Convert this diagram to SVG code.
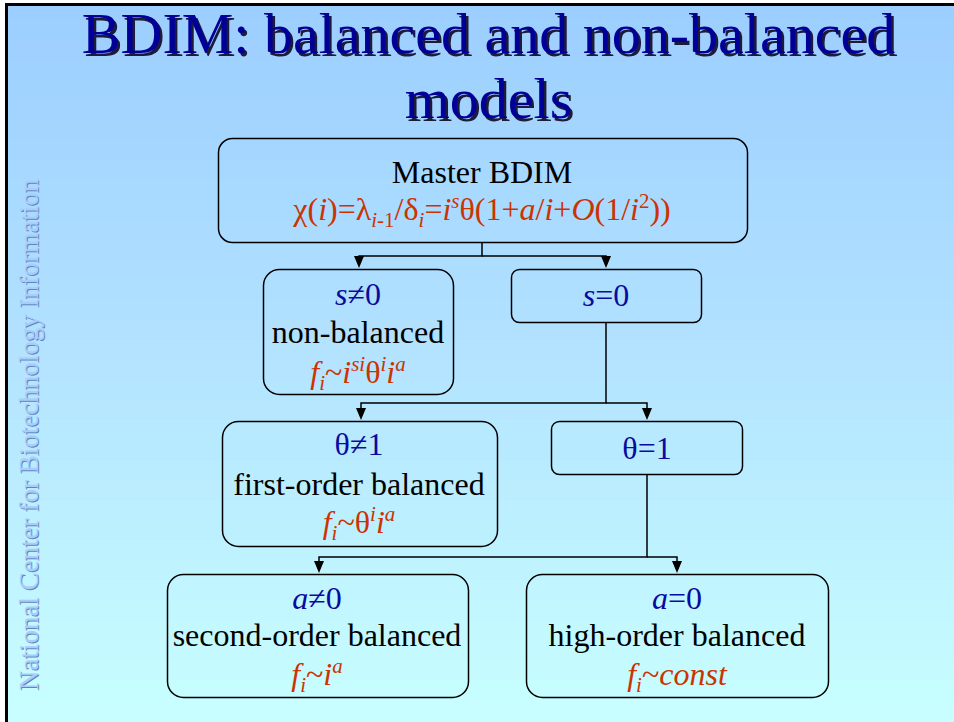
<svg xmlns="http://www.w3.org/2000/svg" width="954" height="722" viewBox="0 0 954 722">
  <!-- background: vertical blue-to-cyan wash built from thin bands -->
  <g id="background">
    <rect x="0" y="0" width="954" height="21" fill="#9cceff"/>
    <rect x="0" y="20" width="954" height="21" fill="#9dcfff"/>
    <rect x="0" y="40" width="954" height="21" fill="#9fd0ff"/>
    <rect x="0" y="60" width="954" height="21" fill="#a0d2ff"/>
    <rect x="0" y="80" width="954" height="21" fill="#a1d3ff"/>
    <rect x="0" y="100" width="954" height="21" fill="#a3d4ff"/>
    <rect x="0" y="120" width="954" height="21" fill="#a4d5ff"/>
    <rect x="0" y="140" width="954" height="21" fill="#a5d6ff"/>
    <rect x="0" y="160" width="954" height="21" fill="#a7d8ff"/>
    <rect x="0" y="180" width="954" height="21" fill="#a8d9ff"/>
    <rect x="0" y="200" width="954" height="21" fill="#a9daff"/>
    <rect x="0" y="220" width="954" height="21" fill="#abdbff"/>
    <rect x="0" y="240" width="954" height="21" fill="#acdcff"/>
    <rect x="0" y="260" width="954" height="21" fill="#addeff"/>
    <rect x="0" y="280" width="954" height="21" fill="#afdfff"/>
    <rect x="0" y="300" width="954" height="21" fill="#b0e0ff"/>
    <rect x="0" y="320" width="954" height="21" fill="#b1e1ff"/>
    <rect x="0" y="340" width="954" height="21" fill="#b3e3ff"/>
    <rect x="0" y="360" width="954" height="21" fill="#b4e4ff"/>
    <rect x="0" y="380" width="954" height="21" fill="#b5e6ff"/>
    <rect x="0" y="400" width="954" height="21" fill="#b6e7ff"/>
    <rect x="0" y="420" width="954" height="21" fill="#b7e9ff"/>
    <rect x="0" y="440" width="954" height="21" fill="#b8eaff"/>
    <rect x="0" y="460" width="954" height="21" fill="#baecff"/>
    <rect x="0" y="480" width="954" height="21" fill="#bbedff"/>
    <rect x="0" y="500" width="954" height="21" fill="#bcefff"/>
    <rect x="0" y="520" width="954" height="21" fill="#bdf0ff"/>
    <rect x="0" y="540" width="954" height="21" fill="#bef2ff"/>
    <rect x="0" y="560" width="954" height="21" fill="#bff4ff"/>
    <rect x="0" y="580" width="954" height="21" fill="#c1f5ff"/>
    <rect x="0" y="600" width="954" height="21" fill="#c2f7ff"/>
    <rect x="0" y="620" width="954" height="21" fill="#c3f8ff"/>
    <rect x="0" y="640" width="954" height="21" fill="#c4faff"/>
    <rect x="0" y="660" width="954" height="21" fill="#c5fbff"/>
    <rect x="0" y="680" width="954" height="21" fill="#c6fdff"/>
    <rect x="0" y="700" width="954" height="22" fill="#c8feff"/>
    <rect x="0" y="0" width="954" height="3" fill="#fff"/>
    <rect x="0" y="0" width="5" height="722" fill="#fff"/>
    <line x1="5" y1="4.5" x2="954" y2="4.5" stroke="#000" stroke-width="3"/>
    <line x1="6.5" y1="3" x2="6.5" y2="722" stroke="#000" stroke-width="3"/>
  </g>

  <!-- title, with a dark offset copy underneath as its shadow -->
  <g id="title" text-anchor="middle">
    <text x="491" y="55.5" font-family="Liberation Serif" font-size="58" fill="#1c1c3a">BDIM: balanced and non-balanced</text>
    <text x="491" y="120.5" font-family="Liberation Serif" font-size="58" fill="#1c1c3a">models</text>
    <text x="488.5" y="53" font-family="Liberation Serif" font-size="58" fill="#000099">BDIM: balanced and non-balanced</text>
    <text x="488.5" y="118" font-family="Liberation Serif" font-size="58" fill="#000099">models</text>
  </g>

  <!-- side caption, engraved look -->
  <g id="side-caption">
    <text transform="translate(39,691) rotate(-90)" font-family="Liberation Serif" font-size="27" fill="#5f84bd">National Center for Biotechnology Information</text>
    <text transform="translate(38,690) rotate(-90)" font-family="Liberation Serif" font-size="27" fill="#a9ccfa">National Center for Biotechnology Information</text>
  </g>

  <!-- connectors: elbow lines with solid arrowheads -->
  <g id="connectors">
    <g fill="none" stroke="#000" stroke-width="1.5">
      <path d="M482,242 V256 H359 V257"/>
      <path d="M482,256 H606 V257"/>
      <path d="M606,322 V403 H361 V409"/>
      <path d="M606,403 H647 V409"/>
      <path d="M647,474 V557 H319 V562"/>
      <path d="M647,557 H677 V562"/>
    </g>
    <g fill="#000">
      <polygon points="354,256 364,256 359,268"/>
      <polygon points="601,256 611,256 606,268"/>
      <polygon points="356,408 366,408 361,420"/>
      <polygon points="642,408 652,408 647,420"/>
      <polygon points="314,561 324,561 319,573"/>
      <polygon points="672,561 682,561 677,573"/>
    </g>
  </g>

  <g id="nodes" text-anchor="middle">
  <!-- Master BDIM -->
  <g id="master">
    <rect x="218.5" y="138.5" width="529" height="104" rx="14" fill="none" stroke="#000" stroke-width="1.5"/>
    <text x="482" y="183" font-family="Liberation Serif" font-size="32" fill="#000">Master BDIM</text>
    <text x="482" y="220" font-family="Liberation Serif" font-size="32" fill="#cc3300">&#967;(<tspan font-style="italic">i</tspan>)=&#955;<tspan font-size="21" font-style="italic" dy="7">i</tspan><tspan font-size="21">-1</tspan><tspan dy="-7">/&#948;</tspan><tspan font-size="21" font-style="italic" dy="7">i</tspan><tspan dy="-7">=</tspan><tspan font-style="italic">i</tspan><tspan font-size="21" font-style="italic" dy="-12">s</tspan><tspan dy="12">&#952;(1+</tspan><tspan font-style="italic">a</tspan>/<tspan font-style="italic">i</tspan>+<tspan font-style="italic">O</tspan>(1/<tspan font-style="italic">i</tspan><tspan font-size="21" dy="-12">2</tspan><tspan dy="12">))</tspan></text>
  </g>

  <!-- s not equal 0 -->
  <g id="non-balanced">
    <rect x="263.5" y="269.5" width="190" height="125" rx="16" fill="none" stroke="#000" stroke-width="1.5"/>
    <text x="358" y="305" font-family="Liberation Serif" font-size="32" fill="#0a0a9e"><tspan font-style="italic">s</tspan>&#8800;0</text>
    <text x="358" y="343" font-family="Liberation Serif" font-size="32" fill="#000">non-balanced</text>
    <text x="358" y="383" font-family="Liberation Serif" font-size="32" fill="#cc3300"><tspan font-style="italic">f</tspan><tspan font-size="21" font-style="italic" dy="7">i</tspan><tspan dy="-7">~</tspan><tspan font-style="italic">i</tspan><tspan font-size="21" font-style="italic" dy="-12">si</tspan><tspan dy="12">&#952;</tspan><tspan font-size="21" font-style="italic" dy="-12">i</tspan><tspan font-style="italic" dy="12">i</tspan><tspan font-size="21" font-style="italic" dy="-12">a</tspan></text>
  </g>

  <!-- s = 0 -->
  <g id="s-zero">
    <rect x="511.5" y="269.5" width="190" height="53" rx="8" fill="none" stroke="#000" stroke-width="1.5"/>
    <text x="606" y="306" font-family="Liberation Serif" font-size="32" fill="#0a0a9e"><tspan font-style="italic">s</tspan>=0</text>
  </g>

  <!-- theta not equal 1 -->
  <g id="first-order">
    <rect x="222.5" y="421.5" width="275" height="125" rx="16" fill="none" stroke="#000" stroke-width="1.5"/>
    <text x="359" y="455" font-family="Liberation Serif" font-size="32" fill="#0a0a9e">&#952;&#8800;1</text>
    <text x="359" y="495" font-family="Liberation Serif" font-size="32" fill="#000">first-order balanced</text>
    <text x="359" y="533" font-family="Liberation Serif" font-size="32" fill="#cc3300"><tspan font-style="italic">f</tspan><tspan font-size="21" font-style="italic" dy="7">i</tspan><tspan dy="-7">~&#952;</tspan><tspan font-size="21" font-style="italic" dy="-12">i</tspan><tspan font-style="italic" dy="12">i</tspan><tspan font-size="21" font-style="italic" dy="-12">a</tspan></text>
  </g>

  <!-- theta = 1 -->
  <g id="theta-one">
    <rect x="551.5" y="421.5" width="191" height="53" rx="8" fill="none" stroke="#000" stroke-width="1.5"/>
    <text x="647" y="459" font-family="Liberation Serif" font-size="32" fill="#0a0a9e">&#952;=1</text>
  </g>

  <!-- a not equal 0 -->
  <g id="second-order">
    <rect x="167.5" y="574.5" width="301" height="123" rx="16" fill="none" stroke="#000" stroke-width="1.5"/>
    <text x="317" y="609" font-family="Liberation Serif" font-size="32" fill="#0a0a9e"><tspan font-style="italic">a</tspan>&#8800;0</text>
    <text x="317" y="646" font-family="Liberation Serif" font-size="32" fill="#000">second-order balanced</text>
    <text x="317" y="685" font-family="Liberation Serif" font-size="32" fill="#cc3300"><tspan font-style="italic">f</tspan><tspan font-size="21" font-style="italic" dy="7">i</tspan><tspan dy="-7">~</tspan><tspan font-style="italic">i</tspan><tspan font-size="21" font-style="italic" dy="-12">a</tspan></text>
  </g>

  <!-- a = 0 -->
  <g id="high-order">
    <rect x="526.5" y="574.5" width="302" height="123" rx="16" fill="none" stroke="#000" stroke-width="1.5"/>
    <text x="677" y="609" font-family="Liberation Serif" font-size="32" fill="#0a0a9e"><tspan font-style="italic">a</tspan>=0</text>
    <text x="677" y="646" font-family="Liberation Serif" font-size="32" fill="#000">high-order balanced</text>
    <text x="677" y="685" font-family="Liberation Serif" font-size="32" fill="#cc3300"><tspan font-style="italic">f</tspan><tspan font-size="21" font-style="italic" dy="7">i</tspan><tspan dy="-7">~</tspan><tspan font-style="italic">const</tspan></text>
  </g>
  </g>
</svg>
